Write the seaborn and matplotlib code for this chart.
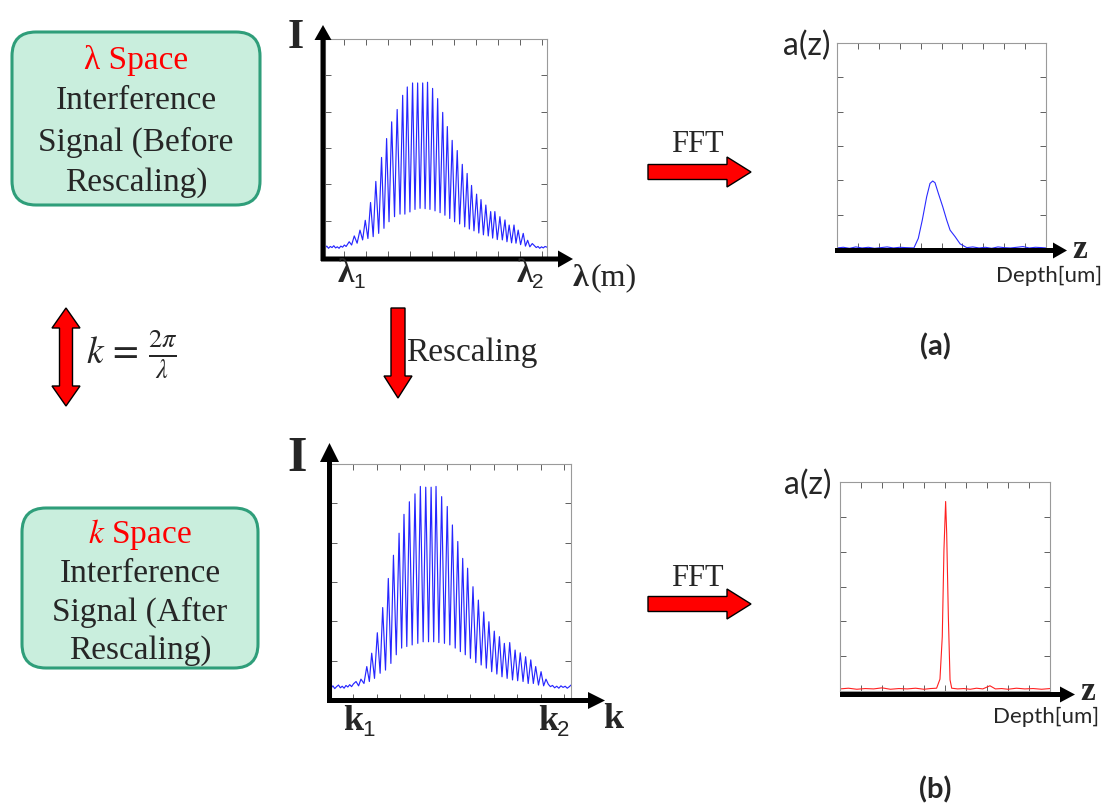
import numpy as np
import pandas as pd
import matplotlib
matplotlib.use("Agg")
import matplotlib.pyplot as plt
import seaborn as sns
from matplotlib.patches import FancyBboxPatch, Polygon

sns.set_style("white")
plt.rcParams['font.family'] = ['Liberation Serif', 'DejaVu Serif']
plt.rcParams['mathtext.fontset'] = 'stix'

W, H = 1108, 810

# ---------------- data ----------------
# lambda-space interference signal: fringe maxima / minima
lam_peak_x = [1.24, 1.47, 1.73, 1.97, 2.21, 2.45, 2.71, 2.94, 3.17, 3.42, 3.67, 3.88, 4.12,
              4.35, 4.58, 4.80, 5.03, 5.26, 5.49, 5.70, 5.92, 6.15, 6.38, 6.60, 6.80, 7.03,
              7.23, 7.45, 7.67, 7.86, 8.09, 8.32, 8.51, 8.73, 8.92, 9.15, 9.35, 9.56]
lam_peak_y = [0.42, 0.58, 0.74, 1.01, 1.50, 2.08, 2.74, 3.26, 3.72, 4.06, 4.45, 4.68, 4.79,
              4.79, 4.79, 4.81, 4.64, 4.36, 3.98, 3.59, 3.21, 2.93, 2.55, 2.30, 1.97, 1.73,
              1.58, 1.43, 1.25, 1.25, 1.11, 1.02, 0.88, 0.88, 0.74, 0.65, 0.46, 0.37]
lam_trough_x = [1.35, 1.60, 1.85, 2.09, 2.33, 2.58, 2.82, 3.05, 3.30, 3.55, 3.77, 4.00, 4.23,
                4.46, 4.69, 4.91, 5.14, 5.37, 5.59, 5.81, 6.03, 6.26, 6.49, 6.70, 6.91, 7.13,
                7.34, 7.56, 7.76, 7.97, 8.20, 8.41, 8.62, 8.82, 9.03, 9.25, 9.45]
lam_trough_y = [0.33, 0.38, 0.47, 0.51, 0.56, 0.65, 0.79, 0.97, 1.11, 1.18, 1.18, 1.24, 1.31,
                1.34, 1.33, 1.31, 1.27, 1.22, 1.15, 1.06, 0.97, 0.91, 0.83, 0.77, 0.72, 0.66,
                0.61, 0.58, 0.52, 0.48, 0.47, 0.42, 0.39, 0.38, 0.34, 0.30, 0.28]
lam_base_l_x = [0.14, 0.22, 0.30, 0.38, 0.46, 0.54, 0.62, 0.70, 0.78, 0.86, 0.94, 1.02, 1.10]
lam_base_l_y = [0.25, 0.30, 0.24, 0.29, 0.26, 0.31, 0.25, 0.28, 0.24, 0.30, 0.27, 0.33, 0.29]
lam_base_r_x = [9.66, 9.74, 9.82, 9.90, 9.98, 10.06, 10.14, 10.23]
lam_base_r_y = [0.31, 0.26, 0.29, 0.24, 0.28, 0.25, 0.29, 0.27]

# k-space interference signal
k_peak_x = [1.11, 1.32, 1.57, 1.78, 2.02, 2.25, 2.49, 2.71, 2.95, 3.16, 3.39, 3.63, 3.86,
            4.09, 4.32, 4.53, 4.77, 5.01, 5.23, 5.46, 5.67, 5.88, 6.11, 6.34, 6.57, 6.79,
            7.02, 7.24, 7.45, 7.68, 7.91, 8.13, 8.36, 8.58, 8.79, 9.02, 9.23]
k_peak_y = [0.47, 0.53, 0.85, 1.19, 1.71, 2.35, 3.09, 3.68, 4.24, 4.72, 5.04, 5.24, 5.43,
            5.41, 5.41, 5.43, 5.17, 4.92, 4.45, 4.03, 3.60, 3.35, 2.88, 2.54, 2.24, 1.99,
            1.75, 1.61, 1.44, 1.46, 1.27, 1.20, 1.10, 1.02, 0.85, 0.72, 0.53]
k_trough_x = [1.22, 1.45, 1.68, 1.90, 2.14, 2.37, 2.60, 2.83, 3.06, 3.28, 3.51, 3.75, 3.98,
              4.21, 4.43, 4.65, 4.89, 5.12, 5.35, 5.57, 5.78, 6.00, 6.23, 6.46, 6.68, 6.91,
              7.13, 7.35, 7.57, 7.80, 8.02, 8.25, 8.47, 8.69, 8.91, 9.13]
k_trough_y = [0.36, 0.42, 0.47, 0.55, 0.68, 0.76, 0.93, 1.15, 1.32, 1.36, 1.40, 1.44, 1.48,
              1.48, 1.48, 1.46, 1.44, 1.40, 1.32, 1.23, 1.15, 1.06, 0.95, 0.89, 0.81, 0.72,
              0.66, 0.59, 0.55, 0.51, 0.49, 0.47, 0.42, 0.42, 0.38, 0.36]
k_base_l_x = [0.04, 0.12, 0.20, 0.28, 0.36, 0.44, 0.52, 0.60, 0.68, 0.76, 0.84, 0.92, 1.00]
k_base_l_y = [0.30, 0.36, 0.29, 0.34, 0.38, 0.31, 0.35, 0.30, 0.37, 0.33, 0.39, 0.34, 0.41]
k_base_r_x = [9.33, 9.42, 9.51, 9.60, 9.69, 9.78, 9.87, 9.96, 10.05, 10.14, 10.23, 10.30]
k_base_r_y = [0.40, 0.34, 0.37, 0.31, 0.35, 0.30, 0.36, 0.32, 0.35, 0.30, 0.34, 0.38]

# depth profiles after FFT
fa_x = [0.0, 0.3, 0.6, 0.9, 1.2, 1.5, 1.8, 2.1, 2.4, 2.7, 3.0, 3.3,
        3.68, 3.89, 4.08, 4.29, 4.45, 4.58, 4.69, 4.85, 5.06, 5.25, 5.41, 5.65, 5.89, 6.21,
        6.5, 6.8, 7.1, 7.4, 7.7, 8.0, 8.3, 8.6, 8.9, 9.2, 9.5, 9.8, 10.0]
fa_y = [0.03, 0.05, 0.02, 0.06, 0.03, 0.05, 0.02, 0.04, 0.06, 0.03, 0.05, 0.04,
        0.03, 0.31, 0.84, 1.52, 1.91, 1.98, 1.93, 1.62, 1.23, 0.84, 0.55, 0.36, 0.15, 0.04,
        0.06, 0.03, 0.05, 0.02, 0.06, 0.04, 0.03, 0.05, 0.07, 0.03, 0.05, 0.04, 0.03]
fb_x = [0.0, 0.4, 0.8, 1.2, 1.6, 2.0, 2.4, 2.8, 3.2, 3.6, 4.0, 4.3,
        4.60, 4.76, 4.87, 4.95, 5.03, 5.08, 5.16, 5.24, 5.32,
        5.6, 5.9, 6.2, 6.5, 6.8, 7.14, 7.4, 7.7, 8.0, 8.4, 8.8, 9.2, 9.6, 10.0]
fb_y = [0.06, 0.08, 0.05, 0.07, 0.06, 0.09, 0.05, 0.07, 0.06, 0.08, 0.05, 0.07,
        0.08, 0.34, 1.56, 4.05, 5.44, 4.53, 2.13, 0.32, 0.08,
        0.06, 0.07, 0.05, 0.08, 0.06, 0.15, 0.06, 0.07, 0.05, 0.08, 0.06, 0.07, 0.05, 0.07]

box_top_lines = ["Interference", "Signal (Before", "Rescaling)"]
box_bot_lines = ["Interference", "Signal (After", "Rescaling)"]


def fringe(bx_l, by_l, px, py, tx, ty, bx_r, by_r):
    xs, ys = list(bx_l), list(by_l)
    for i in range(len(px)):
        xs.append(px[i]); ys.append(py[i])
        if i < len(tx):
            xs.append(tx[i]); ys.append(ty[i])
    xs += list(bx_r); ys += list(by_r)
    return pd.DataFrame({"x": xs, "y": ys})


lam_df = fringe(lam_base_l_x, lam_base_l_y, lam_peak_x, lam_peak_y,
                lam_trough_x, lam_trough_y, lam_base_r_x, lam_base_r_y)
k_df = fringe(k_base_l_x, k_base_l_y, k_peak_x, k_peak_y,
              k_trough_x, k_trough_y, k_base_r_x, k_base_r_y)
fa_df = pd.DataFrame({"x": fa_x, "y": fa_y})
fb_df = pd.DataFrame({"x": fb_x, "y": fb_y})

# ---------------- figure ----------------
fig = plt.figure(figsize=(W / 100, H / 100), dpi=100)
fig.patch.set_facecolor("white")


def px_axes(l, t, r, b):
    return fig.add_axes([l / W, 1 - b / H, (r - l) / W, (b - t) / H])


def style_box(ax, xlim, ylim, xt, yt):
    ax.set_xlim(*xlim)
    ax.set_ylim(*ylim)
    ax.set_xticks(xt)
    ax.set_yticks(yt)
    ax.tick_params(direction='in', length=4, width=0.7, colors='#606060',
                   top=True, right=True, bottom=True, left=True,
                   labelbottom=False, labelleft=False)
    for s in ax.spines.values():
        s.set_visible(True)
        s.set_color('#9a9a9a')
        s.set_linewidth(0.8)
    ax.set_xlabel("")
    ax.set_ylabel("")
    ax.set_facecolor("white")


axA = px_axes(325, 39, 547, 257)
sns.lineplot(data=lam_df, x="x", y="y", ax=axA, color="#2626ff", linewidth=0.85,
             estimator=None, sort=False, legend=False)
style_box(axA, (0.14, 10.23), (0, 6), range(1, 11), range(0, 7))

axB = px_axes(331, 464, 571, 700)
sns.lineplot(data=k_df, x="x", y="y", ax=axB, color="#2626ff", linewidth=0.85,
             estimator=None, sort=False, legend=False)
style_box(axB, (0.04, 10.30), (0, 6), range(1, 11), range(0, 7))

axC = px_axes(837, 43, 1046, 249)
sns.lineplot(data=fa_df, x="x", y="y", ax=axC, color="#2a2aff", linewidth=0.8,
             estimator=None, sort=False, legend=False)
style_box(axC, (0, 10), (0, 6), range(1, 10), range(1, 6))

axD = px_axes(840, 482, 1050, 691)
sns.lineplot(data=fb_df, x="x", y="y", ax=axD, color="#ff2020", linewidth=0.8,
             estimator=None, sort=False, legend=False)
style_box(axD, (0, 10), (0, 6), range(1, 10), range(1, 6))

# ---------------- overlay (pixel coordinates) ----------------
ov = fig.add_axes([0, 0, 1, 1])
ov.set_xlim(0, W)
ov.set_ylim(H, 0)
ov.axis("off")
ov.patch.set_alpha(0)
ov.set_zorder(10)


def arrow_poly(x0, y0, x1, y1, sw, hw, hl, fc, ec="none", lw=0.0, double=False):
    v = np.array([x1 - x0, y1 - y0], dtype=float)
    L = np.hypot(*v)
    u = v / L
    n = np.array([-u[1], u[0]])
    p0 = np.array([x0, y0], float)
    pts = []
    if double:
        a = p0 + u * hl
        pts += [p0, a + n * hw / 2, a + n * sw / 2]
    else:
        pts += [p0 + n * sw / 2]
    b = p0 + u * (L - hl)
    pts += [b + n * sw / 2, b + n * hw / 2, p0 + u * L, b - n * hw / 2, b - n * sw / 2]
    if double:
        a = p0 + u * hl
        pts += [a - n * sw / 2, a - n * hw / 2]
    else:
        pts += [p0 - n * sw / 2]
    ov.add_patch(Polygon(np.array(pts), closed=True, facecolor=fc, edgecolor=ec,
                         linewidth=lw, joinstyle="miter"))


# black axis arrows
arrow_poly(323, 261, 323, 25, 5, 17, 15, "black")
arrow_poly(321, 259, 573, 259, 5, 17, 15, "black")
arrow_poly(329.5, 703, 329.5, 443, 5, 19, 19, "black")
arrow_poly(327, 700.5, 605, 700.5, 5, 17, 17, "black")
arrow_poly(835, 250.5, 1067, 250.5, 5, 16, 14, "black")
arrow_poly(840, 694.5, 1075, 694.5, 5, 16, 15, "black")

# red block arrows
arrow_poly(648, 172, 751, 172, 15, 30, 24, "#ff0000", "black", 1.0)
arrow_poly(648, 604, 751, 604, 15, 30, 24, "#ff0000", "black", 1.0)
arrow_poly(398, 308, 398, 398, 14, 28, 22, "#ff0000", "black", 1.0)
arrow_poly(66, 308, 66, 406, 13, 28, 20, "#ff0000", "black", 1.0, double=True)

# rounded boxes
for (l, t, r, b) in [(12, 32, 260, 205), (22, 508, 258, 668)]:
    ov.add_patch(FancyBboxPatch((l, t), r - l, b - t,
                                boxstyle="round,pad=0,rounding_size=24",
                                facecolor="#c9eedd", edgecolor="#2f9e7a", linewidth=2.2))

serif = ['Liberation Serif', 'DejaVu Serif']
sans = ['Lato', 'DejaVu Sans']
BOX_FS = 24

ov.text(136, 60, "λ Space", color="#ff0000", fontsize=BOX_FS, family=serif, ha="center", va="center")
for txt, yy in zip(box_top_lines, [101, 142, 183]):
    ov.text(136, yy, txt, fontsize=BOX_FS, family=serif, ha="center", va="center")
ov.text(140, 535, r"$k$ Space", color="#ff0000", fontsize=BOX_FS, family=serif, ha="center", va="center")
for txt, yy in zip(box_bot_lines, [574, 612, 651]):
    ov.text(140, yy, txt, fontsize=BOX_FS, family=serif, ha="center", va="center")

# formula and other labels
ov.text(86, 354, r"$k\,=\,\frac{2\pi}{\lambda}$", fontsize=27, ha="left", va="center")
ov.text(406, 353, "Rescaling", fontsize=24, family=serif, ha="left", va="center")
ov.text(697, 145, "FFT", fontsize=22, family=serif, ha="center", va="center")
ov.text(697, 578, "FFT", fontsize=22, family=serif, ha="center", va="center")

ov.text(296, 38, "I", fontsize=30, fontweight="bold", family=serif, ha="center", va="center")
ov.text(297, 459, "I", fontsize=36, fontweight="bold", family=serif, ha="center", va="center")

ov.text(346, 274, "λ", fontsize=24, fontweight="bold", family=serif, ha="center", va="center")
ov.text(359, 283, "1", fontsize=15, family=['Liberation Sans'], ha="center", va="center")
ov.text(525, 274, "λ", fontsize=24, fontweight="bold", family=serif, ha="center", va="center")
ov.text(538, 283, "2", fontsize=15, family=['Liberation Sans'], ha="center", va="center")
ov.text(573, 278, "λ", fontsize=23, fontweight="bold", family=serif, ha="left", va="center")
ov.text(591, 278, "(m)", fontsize=23, family=serif, ha="left", va="center")

ov.text(353, 722, "k", fontsize=26, fontweight="bold", family=serif, ha="center", va="center")
ov.text(368, 731, "1", fontsize=16, family=['Liberation Sans'], ha="center", va="center")
ov.text(548, 722, "k", fontsize=26, fontweight="bold", family=serif, ha="center", va="center")
ov.text(563, 731, "2", fontsize=16, family=['Liberation Sans'], ha="center", va="center")
ov.text(613, 720, "k", fontsize=26, fontweight="bold", family=serif, ha="center", va="center")

ov.text(807, 46, "a(z)", fontsize=23, family=sans, ha="center", va="center")
ov.text(808, 485, "a(z)", fontsize=23, family=sans, ha="center", va="center")
ov.text(1080, 249, "z", fontsize=24, fontweight="bold", family=serif, ha="center", va="center")
ov.text(1088, 692, "z", fontsize=24, fontweight="bold", family=serif, ha="center", va="center")
ov.text(1049, 276, "Depth[um]", fontsize=16, family=sans, ha="center", va="center")
ov.text(1046, 717, "Depth[um]", fontsize=16, family=sans, ha="center", va="center")
ov.text(935, 347, "(a)", fontsize=21, fontweight="bold", family=sans, ha="center", va="center")
ov.text(935, 790, "(b)", fontsize=21, fontweight="bold", family=sans, ha="center", va="center")

fig.savefig("out.png", dpi=100, facecolor="white")
